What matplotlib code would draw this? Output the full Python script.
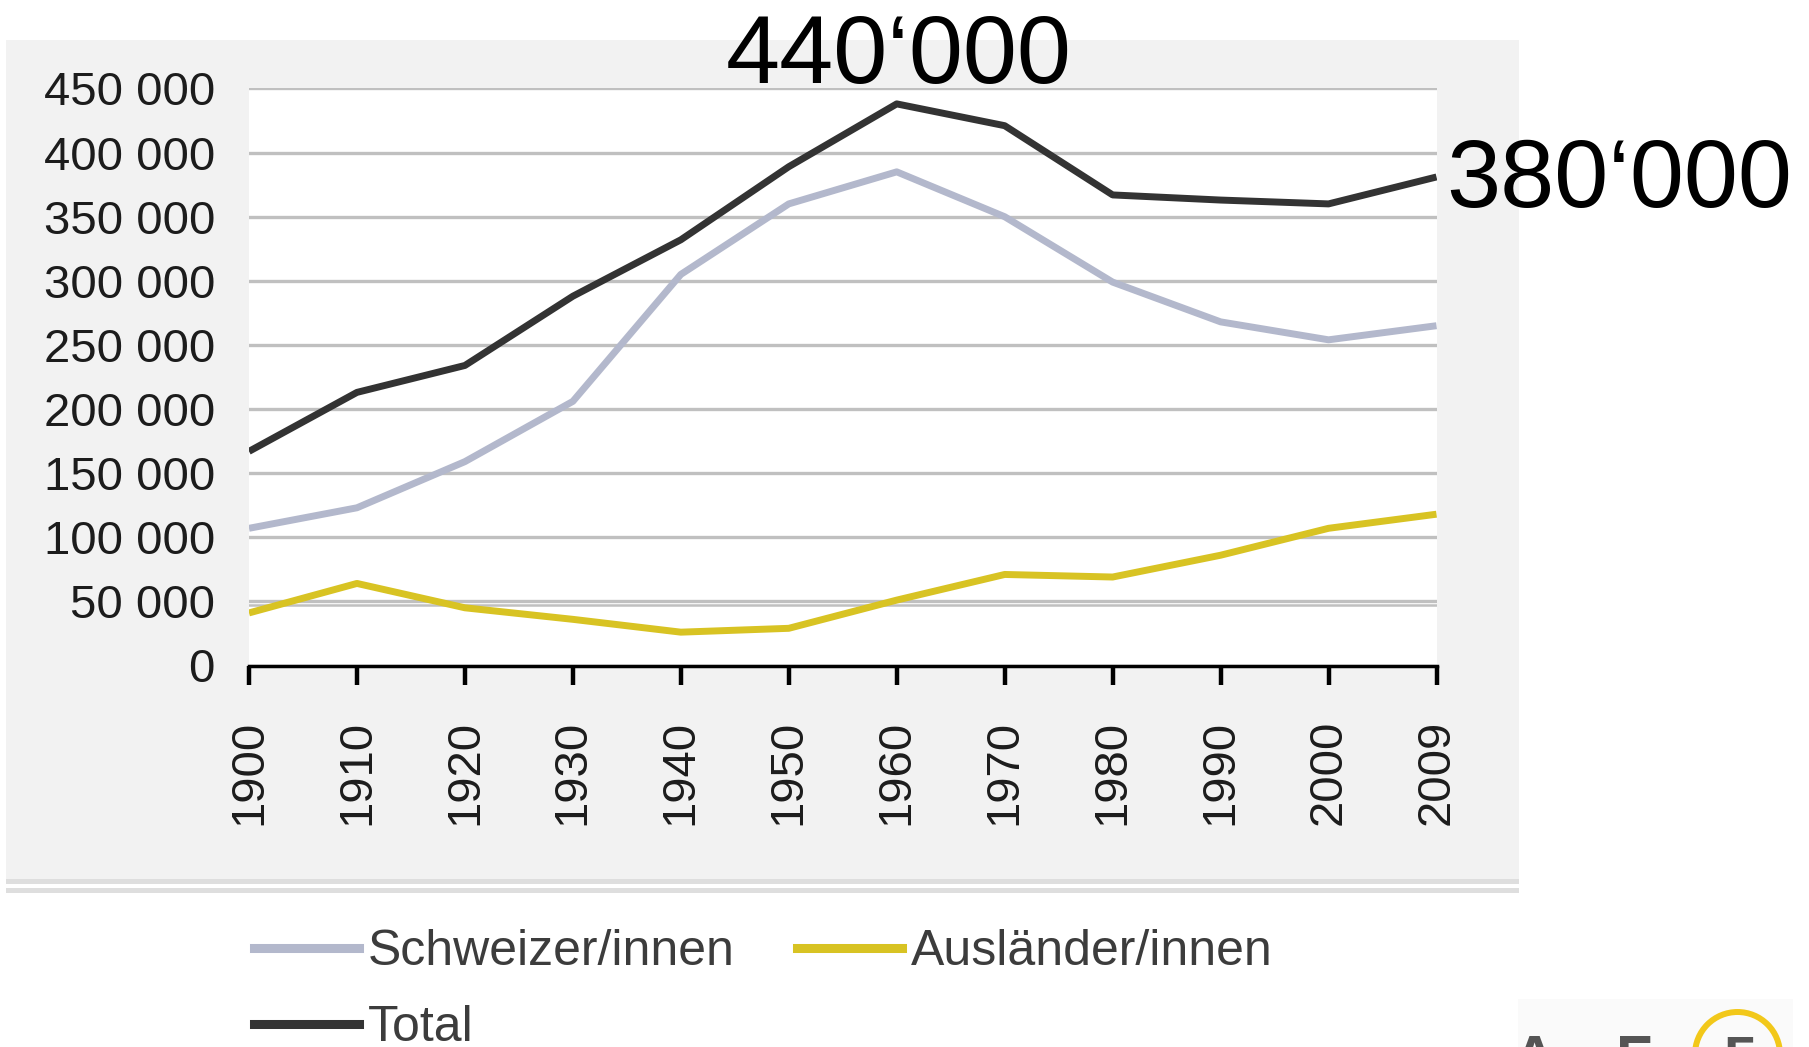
import matplotlib
matplotlib.use("Agg")
import matplotlib.pyplot as plt
from matplotlib.patches import Rectangle, Ellipse
from matplotlib.lines import Line2D

plt.rcParams['font.family'] = ['Liberation Sans', 'DejaVu Sans']

# ---------------- data ----------------
years = ["1900", "1910", "1920", "1930", "1940", "1950",
         "1960", "1970", "1980", "1990", "2000", "2009"]
schweizer = [107000, 123000, 159000, 206000, 305000, 360000,
             385000, 350000, 299000, 268000, 254000, 265000]
auslaender = [41000, 64000, 45000, 36000, 26000, 29000,
              51000, 71000, 69000, 86000, 107000, 118000]
total = [167000, 213000, 234000, 288000, 332000, 389000,
         438000, 421000, 367000, 363000, 360000, 381000]
y_ticks = [0, 50000, 100000, 150000, 200000, 250000,
           300000, 350000, 400000, 450000]
series_names = ["Schweizer/innen", "Ausländer/innen", "Total"]
annot_texts = ["440‘000", "380‘000"]

W, H = 1809, 1047
fig = plt.figure(figsize=(W / 100, H / 100), dpi=100, facecolor="white")

def fx(px):
    return px / W

def fy(py):
    return 1 - py / H

# grey panel behind chart
fig.add_artist(Rectangle((fx(6), fy(879)), fx(1519) - fx(6), fy(40) - fy(879),
                         transform=fig.transFigure, facecolor="#f2f2f2",
                         edgecolor="none", zorder=0))
for top in (879, 888):
    fig.add_artist(Rectangle((fx(6), fy(top + 5)), fx(1519) - fx(6), 5 / H,
                             transform=fig.transFigure, facecolor="#dedede",
                             edgecolor="none", zorder=0))

ax = fig.add_axes([fx(249), fy(665.5), fx(1436.5) - fx(249), fy(88.5) - fy(665.5)])
ax.set_facecolor("white")
ax.set_zorder(1)

x = list(range(len(years)))
lw = 5.0
l_sch, = ax.plot(x, schweizer, color="#b3b8cc", lw=lw, solid_joinstyle="round",
                 solid_capstyle="butt", zorder=3)
l_aus, = ax.plot(x, auslaender, color="#d8c323", lw=lw, solid_joinstyle="round",
                 solid_capstyle="butt", zorder=3)
l_tot, = ax.plot(x, total, color="#333333", lw=lw, solid_joinstyle="round",
                 solid_capstyle="butt", zorder=4)

ax.set_xlim(0, len(years) - 1)
ax.set_ylim(0, 450000)
ax.set_yticks(y_ticks)
ax.set_yticklabels([f"{v:,}".replace(",", " ") for v in y_ticks])
ax.set_xticks(x)
ax.set_xticklabels(years, rotation=90)

ax.yaxis.grid(True, color="#c0c0c0", lw=2.4, zorder=1)
# the reference shows the 50 000 gridline doubled
ax.axhline(47000, color="#c0c0c0", lw=1.8, zorder=1)
ax.set_axisbelow(True)

for s in ("left", "right", "top"):
    ax.spines[s].set_visible(False)
ax.spines["bottom"].set_color("black")
ax.spines["bottom"].set_linewidth(2.5)
ax.spines["bottom"].set_zorder(5)

ax.tick_params(axis="y", length=0, pad=24.5, labelsize=34, labelcolor="#1c1c1c")
ax.tick_params(axis="x", length=14, width=3.2, color="black", direction="out",
               pad=25, labelsize=34, labelcolor="#1c1c1c")

# annotations
fig.text(fx(899), fy(83), annot_texts[0], fontsize=70, color="black",
         ha="center", va="baseline")
fig.text(fx(1446), fy(207), annot_texts[1], fontsize=70, color="black",
         ha="left", va="baseline")

# legend
handles = [Line2D([], [], color=l_sch.get_color(), lw=6.5),
           Line2D([], [], color=l_tot.get_color(), lw=6.5),
           Line2D([], [], color=l_aus.get_color(), lw=6.5)]
labels = [series_names[0], series_names[2], series_names[1]]
leg = fig.legend(handles, labels, loc="upper left",
                 bbox_to_anchor=(fx(254), fy(929)), ncol=2, frameon=False,
                 fontsize=36, handlelength=2.1, handletextpad=0.18,
                 columnspacing=1.25, labelspacing=0.6, borderpad=0,
                 borderaxespad=0)
for t in leg.get_texts():
    t.set_color("#3c3c3c")

# logo partly visible at bottom right
fig.add_artist(Rectangle((fx(1518), 0), fx(1793) - fx(1518), fy(999),
                         transform=fig.transFigure, facecolor="#fafafa",
                         edgecolor="none", zorder=0))
for letter, cx in (("A", 1534), ("F", 1634), ("5", 1740)):
    fig.text(fx(cx), fy(1034), letter, fontsize=43, fontweight="bold",
             color="#555555", ha="center", va="top")
fig.add_artist(Ellipse((fx(1737.5), fy(1054.5)), 85 / W, 85 / H,
                       transform=fig.transFigure, fill=False,
                       edgecolor="#f2c81a", lw=4.3, zorder=2))

fig.savefig("out.png", dpi=100, facecolor="white")
